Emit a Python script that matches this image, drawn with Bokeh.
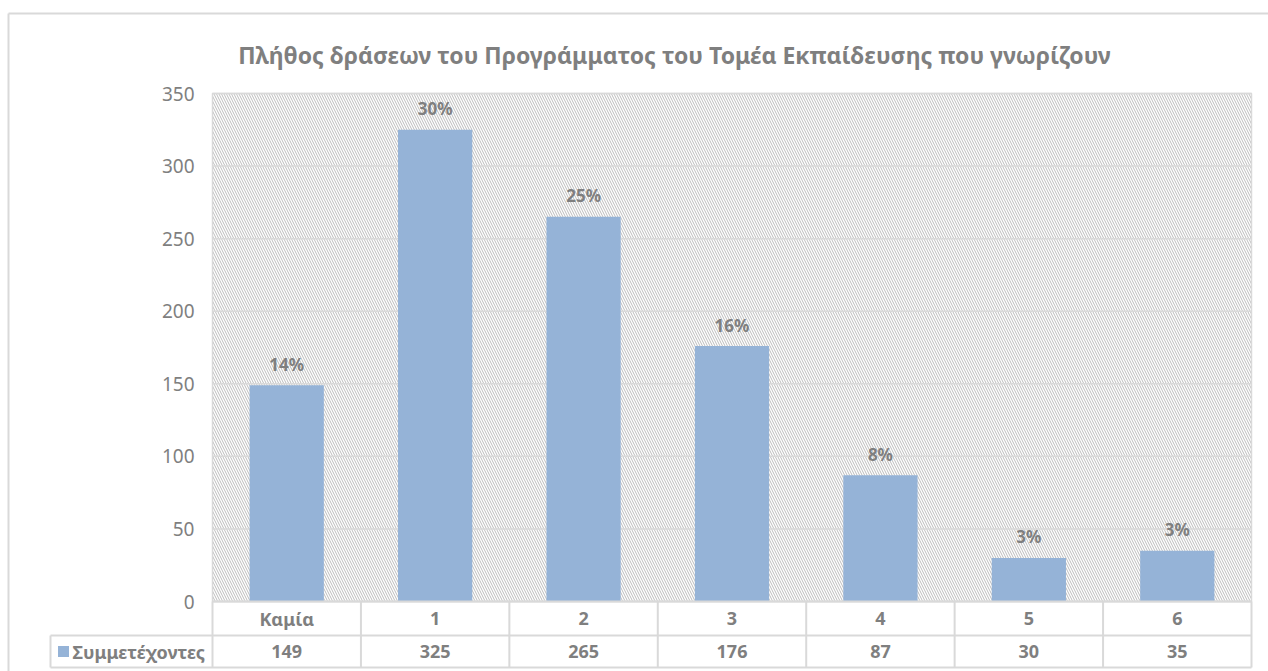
from bokeh.plotting import figure
from bokeh.models import Range1d, LinearAxis, FixedTicker
from bokeh.core.properties import value
from bokeh.embed import file_html
from bokeh.resources import INLINE

# ---------------- data ----------------
title = "Πλήθος δράσεων του Προγράμματος του Τομέα Εκπαίδευσης που γνωρίζουν"
categories = ["Καμία", "1", "2", "3", "4", "5", "6"]
counts = [149, 325, 265, 176, 87, 30, 35]
pct_labels = ["14%", "30%", "25%", "16%", "8%", "3%", "3%"]
series_name = "Συμμετέχοντες"
y_ticks = [0, 50, 100, 150, 200, 250, 300, 350]

# ---------------- layout (screen pixels) ----------------
W, H = 1268, 671
PAGE = 0
plot_l, plot_r, plot_t, plot_b = 212, 1251, 93, 601
row1_b, row2_b = 635, 667
leg_l = 50
n = len(categories)
sx = (plot_r - plot_l) / n
ymax = y_ticks[-1]
sy = (plot_b - plot_t) / ymax
x0 = -0.5 - (plot_l - PAGE) / sx
x1 = x0 + W / sx
y1 = ymax + (plot_t - PAGE) / sy
y0 = y1 - H / sy


def X(px):
    return x0 + (px - PAGE) / sx


def Y(py):
    return y1 - (py - PAGE) / sy


GRAY = "#7f7f7f"
LINE = "#d9d9d9"
FONT = value("Noto Sans")
BAR = "#95B3D7"

p = figure(width=W, height=H, x_range=Range1d(x0, x1), y_range=Range1d(y0, y1),
           x_axis_type=None, y_axis_type=None, output_backend="svg",
           toolbar_location=None, min_border=0)
p.outline_line_color = None
p.background_fill_color = "white"
p.border_fill_color = "white"

xs = list(range(n))
left_edge, right_edge = -0.5, n - 0.5

# outer chart border (top & left visible)
p.segment(x0=[X(8)], y0=[Y(13)], x1=[x1], y1=[Y(13)], line_color=LINE, line_width=2)
p.segment(x0=[X(8)], y0=[Y(13)], x1=[X(8)], y1=[y0], line_color=LINE, line_width=2)

# hatched plot area
p.quad(left=[left_edge], right=[right_edge], bottom=[0], top=[ymax],
       fill_color="white", line_color=None,
       hatch_pattern="\\", hatch_color="#bcbcbc", hatch_scale=5, hatch_weight=1)

# gridlines
p.segment(x0=[left_edge] * len(y_ticks), y0=y_ticks, x1=[right_edge] * len(y_ticks), y1=y_ticks,
          line_color=LINE, line_width=1.5)
# plot area border
p.quad(left=[left_edge], right=[right_edge], bottom=[0], top=[ymax],
       fill_color=None, line_color=LINE, line_width=1.5)

# bars
p.vbar(x=xs, top=counts, width=0.5, fill_color=BAR, line_color=None)

# percent labels
p.text(x=xs, y=counts, text=pct_labels, y_offset=-21, text_align="center",
       text_baseline="middle", text_font=FONT, text_font_style="bold",
       text_font_size="17px", text_color=GRAY)

# y axis
yaxis = LinearAxis(fixed_location=left_edge, ticker=FixedTicker(ticks=y_ticks))
yaxis.axis_line_color = None
yaxis.major_tick_line_color = None
yaxis.minor_tick_line_color = None
yaxis.major_tick_out = 0
yaxis.major_tick_in = 0
yaxis.major_label_standoff = 18
yaxis.major_label_text_font = "Noto Sans"
yaxis.major_label_text_font_size = "19px"
yaxis.major_label_text_color = GRAY
p.add_layout(yaxis, "left")

# data table
yr1 = Y(row1_b)
yr2 = Y(row2_b)
xl = X(leg_l)
p.segment(x0=[left_edge, xl, xl], y0=[0, yr1, yr2], x1=[right_edge] * 3, y1=[0, yr1, yr2],
          line_color=LINE, line_width=2)
vx = [k - 0.5 for k in range(n + 1)]
p.segment(x0=vx + [xl], y0=[0] * (n + 1) + [yr1], x1=vx + [xl], y1=[yr2] * (n + 2),
          line_color=LINE, line_width=2)

p.text(x=xs, y=[Y((plot_b + row1_b) / 2)] * n, text=categories, text_align="center",
       text_baseline="middle", text_font=FONT, text_font_style="bold",
       text_font_size="18px", text_color=GRAY)
p.text(x=xs, y=[Y((row1_b + row2_b) / 2)] * n, text=[str(v) for v in counts],
       text_align="center", text_baseline="middle", text_font=FONT,
       text_font_style="bold", text_font_size="18px", text_color=GRAY)

# legend key in table
p.scatter(x=[X(63)], y=[Y((row1_b + row2_b) / 2)], marker="square", size=11,
          fill_color=BAR, line_color=None)
p.text(x=[X(72)], y=[Y((row1_b + row2_b) / 2)], text=[series_name], text_align="left",
       text_baseline="middle", text_font=FONT, text_font_style="bold",
       text_font_size="18px", text_color=GRAY)

# title
p.text(x=[X(674)], y=[Y(54)], text=[title], text_align="center", text_baseline="middle",
       text_font=FONT, text_font_style="bold", text_font_size="23px", text_color=GRAY)

open("out.html", "w").write(file_html(p, INLINE))
